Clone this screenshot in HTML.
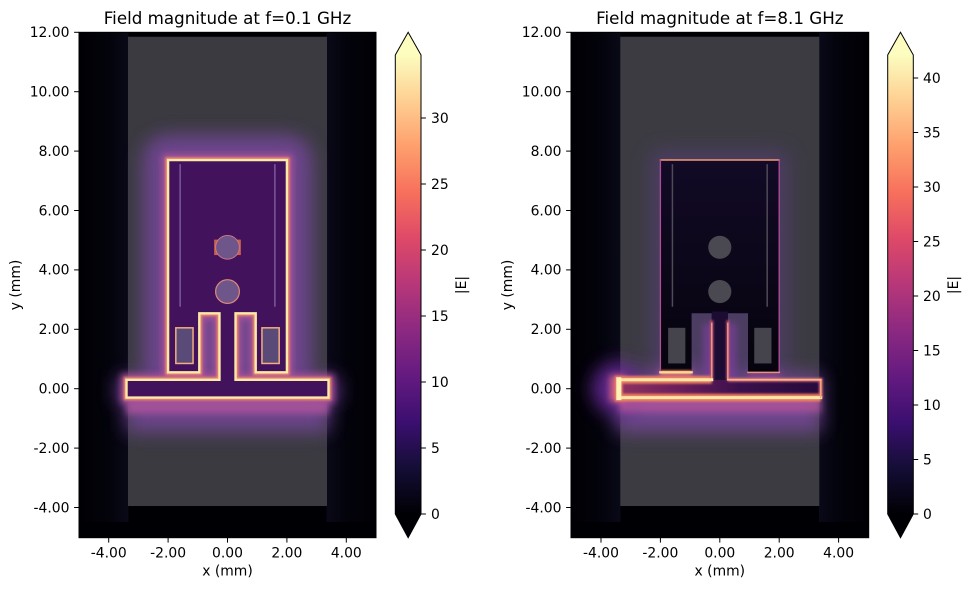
<!DOCTYPE html>
<html><head><meta charset="utf-8"><style>
html,body{margin:0;padding:0;background:#fff;}
svg{display:block;}
text{font-family:"DejaVu Sans","Liberation Sans",sans-serif;fill:#000;}
</style></head><body>
<svg width="970" height="590" viewBox="0 0 970 590" xmlns="http://www.w3.org/2000/svg">
<defs>
<linearGradient id="magma" x1="0" y1="0" x2="0" y2="1">
<stop offset="0" stop-color="#fcfdbf"/><stop offset="0.1" stop-color="#fecf92"/><stop offset="0.2" stop-color="#fe9f6d"/><stop offset="0.3" stop-color="#f7705c"/><stop offset="0.4" stop-color="#de4968"/><stop offset="0.5" stop-color="#b73779"/><stop offset="0.6" stop-color="#8c2981"/><stop offset="0.7" stop-color="#641a80"/><stop offset="0.8" stop-color="#3b0f70"/><stop offset="0.9" stop-color="#140e36"/><stop offset="1" stop-color="#000004"/>
</linearGradient>
<linearGradient id="navL" x1="0" y1="0" x2="1" y2="0">
<stop offset="0" stop-color="#000004"/><stop offset="0.6" stop-color="#03030b"/><stop offset="1" stop-color="#0a0918"/>
</linearGradient>
<linearGradient id="navR" x1="1" y1="0" x2="0" y2="0">
<stop offset="0" stop-color="#000004"/><stop offset="0.6" stop-color="#03030b"/><stop offset="1" stop-color="#0a0918"/>
</linearGradient>
<linearGradient id="fbR" x1="-3.4" y1="0" x2="3.4" y2="0" gradientUnits="userSpaceOnUse">
<stop offset="0" stop-color="#8e3262"/><stop offset="0.3" stop-color="#6a1e5a"/><stop offset="0.6" stop-color="#3a104c"/><stop offset="1" stop-color="#260a3c"/>
</linearGradient>
<linearGradient id="patchR" x1="0" y1="7.7" x2="0" y2="0.3" gradientUnits="userSpaceOnUse">
<stop offset="0" stop-color="#120a26"/><stop offset="1" stop-color="#05030c"/>
</linearGradient>
<clipPath id="cl"><rect x="79" y="32.3" width="297" height="505.4"/></clipPath>
<clipPath id="cr"><rect x="571" y="32.3" width="297.7" height="505.4"/></clipPath>
<filter id="f35" filterUnits="userSpaceOnUse" x="-8" y="-8" width="16" height="24"><feGaussianBlur stdDeviation="0.3"/></filter>
<filter id="f12" filterUnits="userSpaceOnUse" x="-8" y="-8" width="16" height="24"><feGaussianBlur stdDeviation="0.12"/></filter>
<filter id="f04" filterUnits="userSpaceOnUse" x="-8" y="-8" width="16" height="24"><feGaussianBlur stdDeviation="0.04"/></filter>
<path id="metal" d="M-3.4,-0.3 L3.4,-0.3 L3.4,0.3 L0.27,0.3 L0.27,2.54 L0.95,2.54 L0.95,0.55 L2,0.55 L2,7.7 L-2,7.7 L-2,0.55 L-0.95,0.55 L-0.95,2.54 L-0.27,2.54 L-0.27,0.3 L-3.4,0.3 Z"/>
<path id="patch" d="M-0.27,0.3 L-0.27,2.54 L-0.95,2.54 L-0.95,0.55 L-2,0.55 L-2,7.7 L2,7.7 L2,0.55 L0.95,0.55 L0.95,2.54 L0.27,2.54 L0.27,0.3 Z"/>
</defs>

<!-- ============ LEFT PLOT ============ -->
<g clip-path="url(#cl)">
<rect x="79" y="32" width="298" height="506" fill="#000004"/>
<rect x="79" y="32" width="49.5" height="490" fill="url(#navL)"/>
<rect x="326.5" y="32" width="50" height="490" fill="url(#navR)"/>
<g transform="translate(227.5 388.7) scale(29.7 -29.7)">
  <rect x="-3.35" y="-3.95" width="6.7" height="15.8" fill="#3b3a41"/>
  <g filter="url(#f35)" opacity="0.85">
    <use href="#patch" fill="#74479a" stroke="#74479a" stroke-width="1.7" stroke-linejoin="round"/>
    <rect x="-3.4" y="-1.45" width="6.8" height="1.75" fill="#74479a"/>
    <rect x="-3.75" y="-0.5" width="7.5" height="0.9" fill="#6a3a94"/>
  </g>
  <g filter="url(#f12)" opacity="0.9">
    <use href="#metal" fill="none" stroke="#b0549a" stroke-width="0.38"/>
    <rect x="-3.4" y="-0.85" width="6.8" height="0.6" fill="#a8529a"/>
  </g>
  <g filter="url(#f04)">
    <use href="#metal" fill="none" stroke="#f08a6a" stroke-width="0.18"/>
  </g>
  <use href="#metal" fill="#43125d"/>
  <!-- inner features -->
  <rect x="-1.62" y="2.76" width="0.05" height="4.8" fill="#7a5a9a"/>
  <rect x="1.57" y="2.76" width="0.05" height="4.8" fill="#7a5a9a"/>
  <rect x="-1.74" y="0.85" width="0.58" height="1.2" fill="#5a4a78" stroke="#f2b07e" stroke-width="0.05"/>
  <rect x="1.16" y="0.85" width="0.58" height="1.2" fill="#5a4a78" stroke="#f2b07e" stroke-width="0.05"/>
  <rect x="-0.45" y="4.5" width="0.15" height="0.52" fill="#c8604a"/>
  <rect x="0.3" y="4.5" width="0.15" height="0.52" fill="#c8604a"/>
  <circle cx="0" cy="4.76" r="0.4" fill="#6e568a" stroke="#d87a86" stroke-width="0.03"/>
  <circle cx="0" cy="3.27" r="0.4" fill="#6e568a" stroke="#e08a7a" stroke-width="0.04"/>
  <!-- bright edges -->
  <use href="#metal" fill="none" stroke="#fdeaa8" stroke-width="0.08"/>
</g>
</g>
<rect x="79" y="32.3" width="297" height="505.4" fill="none" stroke="#000" stroke-width="1"/>

<!-- left axes ticks -->
<g stroke="#000" stroke-width="1">
<line x1="108.7" y1="537.7" x2="108.7" y2="542.6"/><line x1="168.1" y1="537.7" x2="168.1" y2="542.6"/><line x1="227.5" y1="537.7" x2="227.5" y2="542.6"/><line x1="286.9" y1="537.7" x2="286.9" y2="542.6"/><line x1="346.3" y1="537.7" x2="346.3" y2="542.6"/>
<line x1="74.1" y1="507.5" x2="79" y2="507.5"/><line x1="74.1" y1="448.1" x2="79" y2="448.1"/><line x1="74.1" y1="388.7" x2="79" y2="388.7"/><line x1="74.1" y1="329.3" x2="79" y2="329.3"/><line x1="74.1" y1="269.9" x2="79" y2="269.9"/><line x1="74.1" y1="210.5" x2="79" y2="210.5"/><line x1="74.1" y1="151.1" x2="79" y2="151.1"/><line x1="74.1" y1="91.7" x2="79" y2="91.7"/><line x1="74.1" y1="32.3" x2="79" y2="32.3"/>
</g>
<g font-size="13.9" text-anchor="middle">
<text x="108.7" y="557.5">-4.00</text><text x="168.1" y="557.5">-2.00</text><text x="227.5" y="557.5">0.00</text><text x="286.9" y="557.5">2.00</text><text x="346.3" y="557.5">4.00</text>
</g>
<g font-size="13.9" text-anchor="end">
<text x="69.5" y="512.3">-4.00</text><text x="69.5" y="452.9">-2.00</text><text x="69.5" y="393.5">0.00</text><text x="69.5" y="334.1">2.00</text><text x="69.5" y="274.7">4.00</text><text x="69.5" y="215.3">6.00</text><text x="69.5" y="155.9">8.00</text><text x="69.5" y="96.5">10.00</text><text x="69.5" y="37.1">12.00</text>
</g>
<text x="227.5" y="575.5" font-size="13.9" text-anchor="middle">x (mm)</text>
<text transform="translate(20 285) rotate(-90)" font-size="13.9" text-anchor="middle">y (mm)</text>
<text x="227.5" y="24" font-size="16.7" text-anchor="middle">Field magnitude at f=0.1 GHz</text>

<!-- left colorbar -->
<rect x="395.3" y="55" width="25.7" height="459" fill="url(#magma)"/>
<path d="M395.3,55 L408.15,32.3 L421,55 Z" fill="#fcfdbf"/>
<path d="M395.3,514 L408.15,537.7 L421,514 Z" fill="#000004"/>
<path d="M395.3,55 L408.15,32.3 L421,55 L421,514 L408.15,537.7 L395.3,514 Z" fill="none" stroke="#000" stroke-width="1"/>
<g stroke="#000" stroke-width="1">
<line x1="421" y1="514" x2="425.9" y2="514"/><line x1="421" y1="448" x2="425.9" y2="448"/><line x1="421" y1="382" x2="425.9" y2="382"/><line x1="421" y1="316" x2="425.9" y2="316"/><line x1="421" y1="250" x2="425.9" y2="250"/><line x1="421" y1="184" x2="425.9" y2="184"/><line x1="421" y1="118" x2="425.9" y2="118"/>
</g>
<g font-size="13.9">
<text x="431" y="518.8">0</text><text x="431" y="452.8">5</text><text x="431" y="386.8">10</text><text x="431" y="320.8">15</text><text x="431" y="254.8">20</text><text x="431" y="188.8">25</text><text x="431" y="122.8">30</text>
</g>
<text transform="translate(466 285) rotate(-90)" font-size="13.9" text-anchor="middle">|E|</text>

<!-- ============ RIGHT PLOT ============ -->
<g clip-path="url(#cr)">
<rect x="571" y="32" width="298" height="506" fill="#000004"/>
<rect x="571" y="32" width="49.5" height="490" fill="url(#navL)"/>
<rect x="819" y="32" width="50" height="490" fill="url(#navR)"/>
<g transform="translate(719.8 388.7) scale(29.7 -29.7)">
  <rect x="-3.35" y="-3.95" width="6.7" height="15.8" fill="#3c3b42"/>
  <g filter="url(#f35)" opacity="0.5">
    <use href="#patch" fill="#5a3f80" stroke="#5a3f80" stroke-width="0.7" stroke-linejoin="round"/>
  </g>
  <g filter="url(#f35)" opacity="0.88">
    <rect x="-3.5" y="-1.45" width="6.9" height="1.95" fill="#76479a"/>
    <circle cx="-3.4" cy="0" r="0.9" fill="#6a2a9c"/>
    <rect x="-2.1" y="0.2" width="1.3" height="0.5" fill="#8a4aa0"/>
  </g>
  <g filter="url(#f12)">
    <rect x="-3.4" y="-0.8" width="6.8" height="0.55" fill="#b0549a" opacity="0.8"/>
    <rect x="-3.7" y="-0.45" width="0.5" height="0.9" fill="#d06080"/>
    <rect x="-0.55" y="0.3" width="0.3" height="1.9" fill="#7a3f98" opacity="0.8"/>
    <rect x="0.25" y="0.3" width="0.3" height="1.9" fill="#7a3f98" opacity="0.8"/>
    <rect x="-2.05" y="0.3" width="1.1" height="0.3" fill="#b0589a" opacity="0.8"/>
    <rect x="0.95" y="0.3" width="1.1" height="0.3" fill="#9a4a98" opacity="0.6"/>
  </g>
  <use href="#metal" fill="url(#patchR)"/>
  <rect x="-0.27" y="0.3" width="0.54" height="2.3" fill="#1c0c34"/>
  <rect x="-3.4" y="-0.3" width="6.8" height="0.6" fill="url(#fbR)"/>
  <!-- inner features -->
  <rect x="-1.62" y="2.76" width="0.05" height="4.8" fill="#4e4c56"/>
  <rect x="1.57" y="2.76" width="0.05" height="4.8" fill="#4e4c56"/>
  <rect x="-1.74" y="0.85" width="0.58" height="1.2" fill="#45434b"/>
  <rect x="1.16" y="0.85" width="0.58" height="1.2" fill="#45434b"/>
  <circle cx="0" cy="4.76" r="0.39" fill="#4a4850"/>
  <circle cx="0" cy="3.27" r="0.39" fill="#4a4850"/>
  <!-- edge glow -->
  <g filter="url(#f04)">
    <path d="M-0.27,0.3 L-3.4,0.3 L-3.4,-0.3 L3.4,-0.3" fill="none" stroke="#f08060" stroke-width="0.26"/>
    <path d="M3.4,-0.3 L3.4,0.3 L0.27,0.3" fill="none" stroke="#e0707a" stroke-width="0.12"/>
    <path d="M-2,0.55 L-0.95,0.55" fill="none" stroke="#f08060" stroke-width="0.14"/>
    <path d="M-0.27,0.3 L-0.27,2.3 M0.27,0.3 L0.27,2.3" fill="none" stroke="#c8507a" stroke-width="0.1"/>
  </g>
  <g fill="none" stroke-linecap="square">
    <line x1="-2" y1="7.7" x2="2" y2="7.7" stroke="#f59a72" stroke-width="0.05"/>
    <line x1="-2" y1="7.7" x2="-2" y2="0.55" stroke="#b04c98" stroke-width="0.045"/>
    <line x1="2" y1="7.7" x2="2" y2="0.55" stroke="#b04c98" stroke-width="0.045"/>
    <line x1="-2" y1="0.55" x2="-0.95" y2="0.55" stroke="#fcd898" stroke-width="0.08"/>
    <line x1="0.95" y1="0.55" x2="2" y2="0.55" stroke="#f2907a" stroke-width="0.05"/>
    <line x1="-0.27" y1="0.3" x2="-0.27" y2="2.2" stroke="#f3a27c" stroke-width="0.045"/>
    <line x1="0.27" y1="0.3" x2="0.27" y2="2.2" stroke="#f3a27c" stroke-width="0.045"/>
    <line x1="-3.4" y1="0.3" x2="-0.27" y2="0.3" stroke="#fde8a8" stroke-width="0.1"/>
    <line x1="-3.4" y1="-0.3" x2="3.4" y2="-0.3" stroke="#fde8a8" stroke-width="0.1"/>
    <line x1="-3.4" y1="-0.3" x2="-3.4" y2="0.3" stroke="#fff2b8" stroke-width="0.17"/>
    <line x1="3.4" y1="-0.3" x2="3.4" y2="0.3" stroke="#f7a878" stroke-width="0.05"/>
    <line x1="0.27" y1="0.3" x2="3.4" y2="0.3" stroke="#f8b888" stroke-width="0.06"/>
  </g>
</g>
</g>
<rect x="571" y="32.3" width="297.7" height="505.4" fill="none" stroke="#000" stroke-width="1"/>

<!-- right axes ticks -->
<g stroke="#000" stroke-width="1">
<line x1="601" y1="537.7" x2="601" y2="542.6"/><line x1="660.4" y1="537.7" x2="660.4" y2="542.6"/><line x1="719.8" y1="537.7" x2="719.8" y2="542.6"/><line x1="779.2" y1="537.7" x2="779.2" y2="542.6"/><line x1="838.6" y1="537.7" x2="838.6" y2="542.6"/>
<line x1="566.1" y1="507.5" x2="571" y2="507.5"/><line x1="566.1" y1="448.1" x2="571" y2="448.1"/><line x1="566.1" y1="388.7" x2="571" y2="388.7"/><line x1="566.1" y1="329.3" x2="571" y2="329.3"/><line x1="566.1" y1="269.9" x2="571" y2="269.9"/><line x1="566.1" y1="210.5" x2="571" y2="210.5"/><line x1="566.1" y1="151.1" x2="571" y2="151.1"/><line x1="566.1" y1="91.7" x2="571" y2="91.7"/><line x1="566.1" y1="32.3" x2="571" y2="32.3"/>
</g>
<g font-size="13.9" text-anchor="middle">
<text x="601" y="557.5">-4.00</text><text x="660.4" y="557.5">-2.00</text><text x="719.8" y="557.5">0.00</text><text x="779.2" y="557.5">2.00</text><text x="838.6" y="557.5">4.00</text>
</g>
<g font-size="13.9" text-anchor="end">
<text x="561.5" y="512.3">-4.00</text><text x="561.5" y="452.9">-2.00</text><text x="561.5" y="393.5">0.00</text><text x="561.5" y="334.1">2.00</text><text x="561.5" y="274.7">4.00</text><text x="561.5" y="215.3">6.00</text><text x="561.5" y="155.9">8.00</text><text x="561.5" y="96.5">10.00</text><text x="561.5" y="37.1">12.00</text>
</g>
<text x="719.8" y="575.5" font-size="13.9" text-anchor="middle">x (mm)</text>
<text transform="translate(512 285) rotate(-90)" font-size="13.9" text-anchor="middle">y (mm)</text>
<text x="719.8" y="24" font-size="16.7" text-anchor="middle">Field magnitude at f=8.1 GHz</text>

<!-- right colorbar -->
<rect x="887.7" y="55" width="25.6" height="459" fill="url(#magma)"/>
<path d="M887.7,55 L900.5,32.3 L913.3,55 Z" fill="#fcfdbf"/>
<path d="M887.7,514 L900.5,537.7 L913.3,514 Z" fill="#000004"/>
<path d="M887.7,55 L900.5,32.3 L913.3,55 L913.3,514 L900.5,537.7 L887.7,514 Z" fill="none" stroke="#000" stroke-width="1"/>
<g stroke="#000" stroke-width="1">
<line x1="913.3" y1="514" x2="918.2" y2="514"/><line x1="913.3" y1="459.5" x2="918.2" y2="459.5"/><line x1="913.3" y1="405" x2="918.2" y2="405"/><line x1="913.3" y1="350.5" x2="918.2" y2="350.5"/><line x1="913.3" y1="296" x2="918.2" y2="296"/><line x1="913.3" y1="241.5" x2="918.2" y2="241.5"/><line x1="913.3" y1="187" x2="918.2" y2="187"/><line x1="913.3" y1="132.5" x2="918.2" y2="132.5"/><line x1="913.3" y1="78" x2="918.2" y2="78"/>
</g>
<g font-size="13.9">
<text x="923" y="518.8">0</text><text x="923" y="464.3">5</text><text x="923" y="409.8">10</text><text x="923" y="355.3">15</text><text x="923" y="300.8">20</text><text x="923" y="246.3">25</text><text x="923" y="191.8">30</text><text x="923" y="137.3">35</text><text x="923" y="82.8">40</text>
</g>
<text transform="translate(958 285) rotate(-90)" font-size="13.9" text-anchor="middle">|E|</text>
</svg>
</body></html>
